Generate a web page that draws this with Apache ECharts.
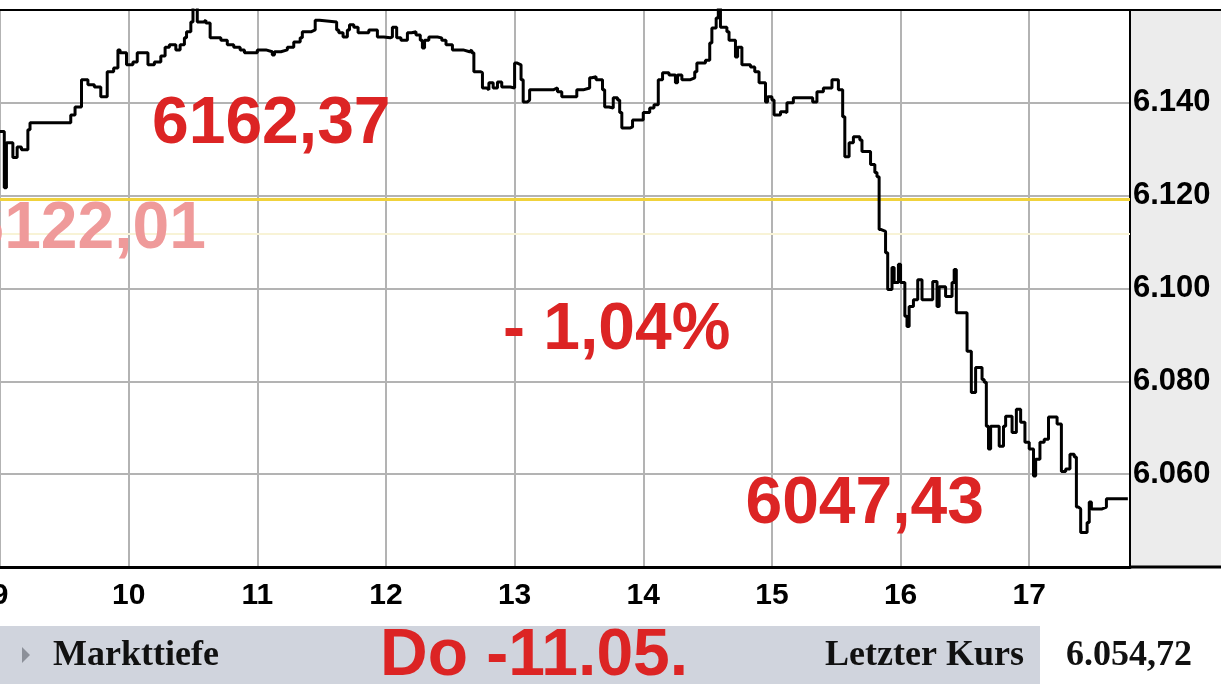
<!DOCTYPE html>
<html>
<head>
<meta charset="utf-8">
<script src="https://cdn.jsdelivr.net/npm/echarts@6/dist/echarts.min.js"></script>
<style>
html,body{margin:0;padding:0;background:#fff;}
#c{width:1221px;height:690px;}
</style>
</head>
<body>
<div id="c"></div>
<script>
// ---- data (intraday index) ----
const times = ["09:00","09:02","09:03","09:06","09:08","09:10","09:13","09:14","09:33","09:35","09:38","09:41","09:44","09:47","09:50","09:53","09:55","09:56","09:59",
"10:02","10:04","10:09","10:12","10:15","10:17","10:19","10:22","10:24","10:26","10:27","10:29","10:30","10:32","10:35","10:36","10:38","10:43","10:46","10:49","10:52","10:54",
"11:00","11:04","11:07","11:08","11:11","11:14","11:17","11:20","11:21","11:25","11:27","11:29","11:37","11:38","11:40","11:42","11:43","11:45","11:47","11:52","11:56","11:59",
"12:02","12:03","12:05","12:07","12:10","12:12","12:14","12:16","12:17","12:18","12:20","12:24","12:26","12:28","12:31","12:36","12:39","12:40","12:41","12:44","12:45","12:47","12:48","12:50","12:52","12:54","12:58",
"13:00","13:01","13:03","13:04","13:06","13:07","13:18","13:20","13:22","13:29","13:32","13:35","13:36","13:38","13:41","13:42","13:44","13:46","13:48","13:49","13:50","13:54","13:55",
"14:00","14:03","14:05","14:07","14:09","14:12","14:15","14:16","14:18","14:22","14:24","14:25","14:29","14:31","14:32","14:34","14:35","14:36","14:39","14:40","14:43","14:44","14:46","14:50","14:52","14:54","14:57","14:58",
"15:00","15:01","15:04","15:06","15:07","15:10","15:19","15:21","15:24","15:28","15:31","15:33","15:34","15:36","15:38","15:41","15:42","15:46","15:48","15:49","15:50","15:51","15:53","15:54","15:56","15:57","15:59",
"16:00","16:02","16:03","16:04","16:06","16:08","16:10","16:15","16:17","16:18","16:21","16:24","16:25","16:26","16:31","16:33","16:35","16:38","16:39","16:40","16:41","16:42","16:46","16:48","16:49","16:52","16:54","16:56","16:58",
"17:00","17:02","17:03","17:05","17:07","17:09","17:13","17:15","17:17","17:19","17:21","17:22","17:23","17:24","17:27","17:28","17:29","17:34","17:36","17:46"];
const prices = [6133.8,6121.7,6131.4,6128.2,6130.5,6129.9,6134.2,6135.7,6137.4,6139.1,6145.0,6143.9,6143.4,6141.3,6146.7,6147.5,6151.4,6150.8,6148.2,
6148.8,6150.8,6148.2,6148.8,6150.1,6152.0,6152.5,6151.4,6152.5,6154.0,6155.3,6157.4,6162.37,6157.4,6157.8,6157.2,6154.0,6153.5,6152.5,6152.0,6151.4,6150.8,
6151.4,6151.0,6150.3,6151.0,6151.4,6152.0,6153.1,6154.0,6155.3,6155.7,6157.8,6157.4,6155.7,6155.1,6154.2,6155.7,6156.8,6156.3,6155.1,6155.7,6154.2,6154.0,
6154.2,6156.3,6154.0,6153.5,6155.1,6155.3,6154.6,6153.5,6151.8,6153.5,6154.2,6154.0,6153.5,6152.5,6151.4,6151.0,6151.4,6150.8,6146.7,6146.5,6143.2,6142.8,6144.3,6143.2,6144.5,6143.4,6143.2,
6148.6,6148.2,6145.0,6140.2,6140.6,6142.8,6143.2,6142.4,6141.3,6142.8,6143.2,6145.4,6145.6,6145.0,6142.8,6139.1,6138.9,6141.1,6140.6,6137.9,6134.6,6134.8,6136.3,
6137.9,6138.9,6139.6,6145.0,6146.5,6146.0,6144.3,6146.0,6145.0,6145.4,6146.7,6148.6,6149.2,6152.9,6156.1,6158.3,6160.8,6156.3,6155.3,6153.5,6149.9,6152.0,6148.2,6147.7,6146.7,6144.3,6140.2,6141.3,
6140.6,6137.4,6138.1,6137.9,6140.0,6141.1,6140.2,6142.4,6143.2,6145.0,6142.8,6137.0,6128.4,6131.4,6132.7,6132.0,6129.5,6126.7,6125.0,6124.1,6112.7,6112.3,6107.7,6099.8,6104.5,6101.3,6105.2,
6101.3,6094.0,6091.8,6096.1,6097.6,6101.9,6097.6,6101.5,6096.1,6100.4,6098.3,6101.3,6104.1,6094.8,6086.5,6077.6,6083.0,6080.4,6079.8,6070.3,6065.4,6070.3,6066.0,6070.3,6072.5,6069.0,6074.0,6071.2,6066.9,
6065.4,6059.6,6063.2,6066.9,6067.5,6072.3,6070.8,6060.6,6061.1,6064.3,6063.7,6052.9,6052.5,6047.43,6049.6,6054.0,6052.5,6052.9,6054.72,6054.72];
const prevCloseLine = 6119.3;   // yellow reference line as drawn
const paleLine = 6111.9;        // faint band line
const yTicks = [6040, 6160, 20]; // min, max, step
const xHours = [9, 17.78];      // session shown
const annotations = {
  high: "6162,37", prev: "6122,01", change: "- 1,04%", low: "6047,43", date: "Do -11.05."
};
const footer = { left: "Markttiefe", mid: "Letzter Kurs", last: "6.054,72" };

// ---- chart ----
function toMin(t){ const p = t.split(':').map(Number); return p[0]*60 + p[1]; }
const seriesData = times.map((t,i)=>[toMin(t), prices[i]]);

const chart = echarts.init(document.getElementById('c'), null, {renderer:'canvas'});
const red = '#dc2424';
const bigFont = 'bold 66px "Liberation Sans", Arial, sans-serif';
const serifFont = 'bold 36px "Liberation Serif", "Times New Roman", serif';

chart.setOption({
  animation:false,
  backgroundColor:'#ffffff',
  grid:{left:0, top:10, right:91, bottom:123, containLabel:false, outerBoundsMode:'none'},
  xAxis:{
    type:'value', min:xHours[0]*60, max:Math.round(xHours[1]*60), interval:60,
    axisLine:{show:true, lineStyle:{color:'#000', width:3}},
    axisTick:{show:false},
    splitLine:{show:true, lineStyle:{color:'#b3b3b3', width:2}},
    axisLabel:{
      margin:14, color:'#000', fontSize:30, fontWeight:'bold',
      fontFamily:'"Liberation Sans", Arial, sans-serif',
      showMaxLabel:false, hideOverlap:false,
      formatter:v => (v % 60 === 0 ? String(v/60) : '')
    }
  },
  yAxis:{
    type:'value', position:'right', min:yTicks[0], max:yTicks[1], interval:yTicks[2],
    axisLine:{show:true, lineStyle:{color:'#000', width:2}},
    axisTick:{show:false},
    splitLine:{show:true, lineStyle:{color:'#b3b3b3', width:2}},
    axisLabel:{
      inside:false, margin:3, color:'#000', fontSize:31, fontWeight:'bold',
      fontFamily:'"Liberation Sans", Arial, sans-serif',
      showMinLabel:false, showMaxLabel:false,
      formatter:v => (v/1000).toFixed(3)
    }
  },
  series:[{
    type:'line', step:'end', symbol:'none', data:seriesData, clip:true,
    lineStyle:{color:'#000', width:3}, z:5,
    markLine:{
      silent:true, symbol:'none', label:{show:false}, animation:false,
      data:[
        {yAxis:paleLine, lineStyle:{color:'#f8f3d6', width:2, type:'solid'}},
        {yAxis:prevCloseLine, lineStyle:{color:'#f0d23c', width:3, type:'solid'}}
      ]
    }
  }],
  graphic:[
    {type:'rect', z:-10, shape:{x:1131, y:10, width:90, height:557}, style:{fill:'#ececec'}},
    {type:'line', z:50, shape:{x1:0, y1:10, x2:1221, y2:10}, style:{stroke:'#000', lineWidth:2}},
    {type:'line', z:50, shape:{x1:1130, y1:567, x2:1221, y2:567}, style:{stroke:'#000', lineWidth:3}},
    // footer band
    {type:'rect', z:1, shape:{x:0, y:626, width:1040, height:58}, style:{fill:'#d0d4dd'}},
    {type:'polygon', z:2, shape:{points:[[22,647],[30,655],[22,663]]}, style:{fill:'#8c9099'}},
    {type:'text', z:3, x:53, y:656, style:{text:footer.left, font:serifFont, fill:'#111', textAlign:'left', textVerticalAlign:'middle'}},
    {type:'text', z:3, x:1024, y:656, style:{text:footer.mid, font:serifFont, fill:'#111', textAlign:'right', textVerticalAlign:'middle'}},
    {type:'text', z:3, x:1066, y:656, style:{text:footer.last, font:serifFont, fill:'#111', textAlign:'left', textVerticalAlign:'middle'}},
    // red annotations
    {type:'text', z:100, x:152, y:125, style:{text:annotations.high, font:bigFont, fill:red, textAlign:'left', textVerticalAlign:'middle'}},
    {type:'text', z:100, x:206, y:230, style:{text:annotations.prev, font:bigFont, fill:'#ef9a9a', textAlign:'right', textVerticalAlign:'middle'}},
    {type:'text', z:100, x:503, y:331, style:{text:annotations.change, font:bigFont, fill:red, textAlign:'left', textVerticalAlign:'middle'}},
    {type:'text', z:100, x:984, y:505, style:{text:annotations.low, font:bigFont, fill:red, textAlign:'right', textVerticalAlign:'middle'}},
    {type:'text', z:100, x:380, y:657, style:{text:annotations.date, font:'bold 66px "Liberation Sans", Arial, sans-serif', fill:red, textAlign:'left', textVerticalAlign:'middle'}}
  ]
});
</script>
</body>
</html>
